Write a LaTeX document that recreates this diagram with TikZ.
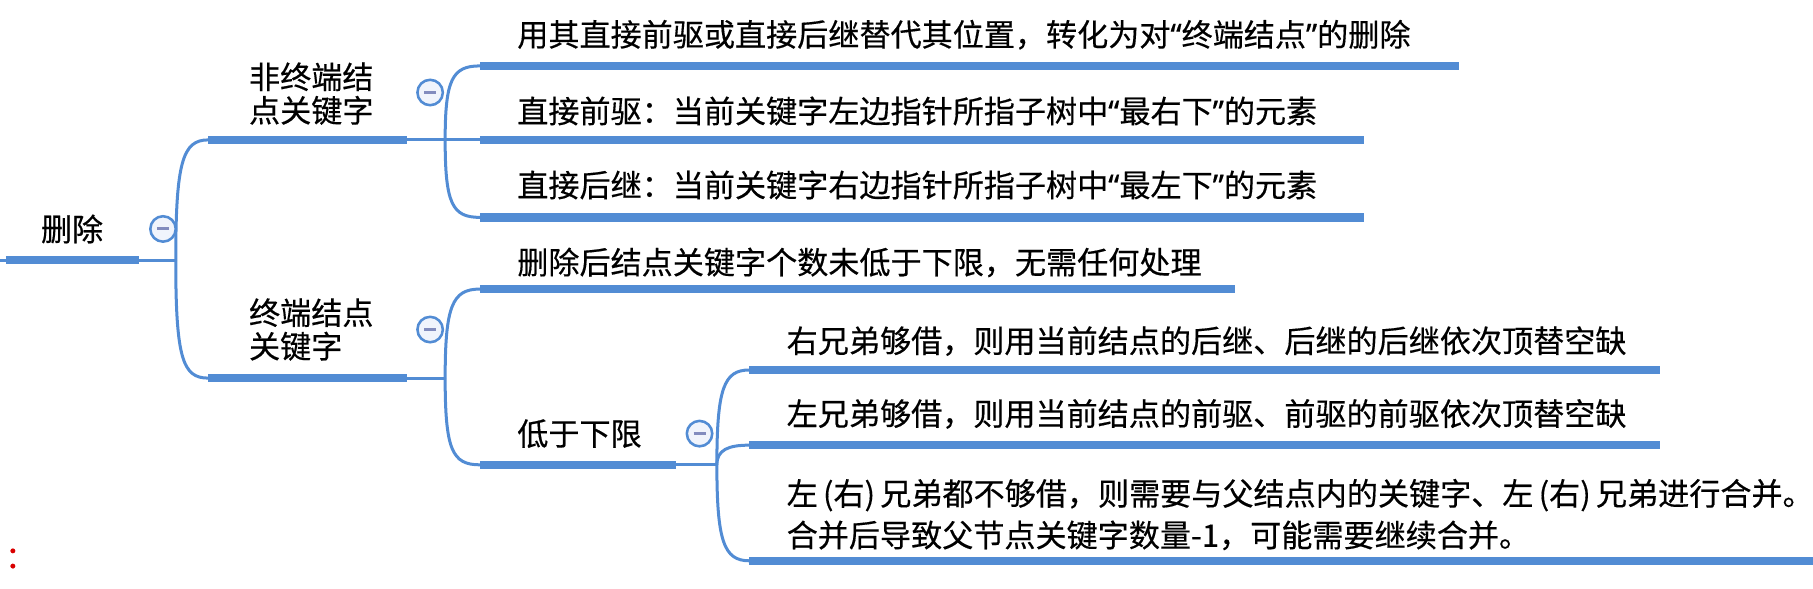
\documentclass[tikz,border=0pt]{standalone}
\usepackage{fontspec}
\setmainfont{Noto Sans CJK SC}[FakeBold=0.4]
\newfontfamily\qf{Noto Sans}[FakeBold=0.4]
\newcommand{\myLq}{{\qf “}}
\newcommand{\myRq}{{\qf ”}}
\definecolor{mmblue}{RGB}{82,140,212}
\definecolor{minusc}{RGB}{130,140,190}
\definecolor{togfill}{RGB}{240,244,252}
\begin{document}
\begin{tikzpicture}[x=0.5pt,y=-0.5pt,
  bar/.style={line width=3.6pt, draw=mmblue},
  link/.style={line width=1.3pt, draw=mmblue},
  txt/.style={anchor=west, inner sep=0pt, font=\fontsize{13.45}{15}\selectfont, align=left},
  tog/.style={circle, draw=mmblue, line width=1.1pt, fill=togfill, minimum size=11pt, inner sep=0pt,
    path picture={\draw[minusc, line width=1.3pt] ([xshift=-2.6pt]path picture bounding box.center) -- ([xshift=2.6pt]path picture bounding box.center);}}]
\useasboundingbox (0,0) rectangle (1568,509);

% coordinates
\coordinate (left) at (0,225);
\coordinate (r0) at (5,225);   \coordinate (r1) at (120,225);  \coordinate (j0) at (152,225);
\coordinate (a0) at (180,121); \coordinate (a1) at (352,121);  \coordinate (ja) at (385,121);
\coordinate (c0) at (180,327); \coordinate (c1) at (352,327);  \coordinate (jc) at (385,327);
\coordinate (b1s) at (415,57);  \coordinate (b1e) at (1262,57);
\coordinate (b2s) at (415,121); \coordinate (b2e) at (1180,121);
\coordinate (b3s) at (415,188); \coordinate (b3e) at (1180,188);
\coordinate (b4s) at (415,250); \coordinate (b4e) at (1068,250);
\coordinate (b5s) at (415,402); \coordinate (b5e) at (585,402); \coordinate (j5) at (620,402);
\coordinate (b6s) at (648,320); \coordinate (b6e) at (1436,320);
\coordinate (b7s) at (648,385); \coordinate (b7e) at (1436,385);
\coordinate (b8s) at (648,485); \coordinate (b8e) at (1568,485);

% connectors
\draw[link] (left) -- (r0);
\draw[link] (r1) -- (j0);
\draw[link] (j0) .. controls +(0,-85) and +(-22,0) .. (a0);
\draw[link] (j0) .. controls +(0,85) and +(-22,0) .. (c0);
\draw[link] (a1) -- (ja) -- (b2s);
\draw[link] (ja) .. controls +(0,-52) and +(-24,0) .. (b1s);
\draw[link] (ja) .. controls +(0,55) and +(-24,0) .. (b3s);
\draw[link] (c1) -- (jc);
\draw[link] (jc) .. controls +(0,-62) and +(-24,0) .. (b4s);
\draw[link] (jc) .. controls +(0,62) and +(-24,0) .. (b5s);
\draw[link] (b5e) -- (j5);
\draw[link] (j5) .. controls +(0,-66) and +(-22,0) .. (b6s);
\draw[link] (j5) .. controls +(0,-13) and +(-18,0) .. (b7s);
\draw[link] (j5) .. controls +(0,66) and +(-22,0) .. (b8s);

% bars
\draw[bar] (r0) -- (r1);
\draw[bar] (a0) -- (a1);
\draw[bar] (c0) -- (c1);
\draw[bar] (b1s) -- (b1e);
\draw[bar] (b2s) -- (b2e);
\draw[bar] (b3s) -- (b3e);
\draw[bar] (b4s) -- (b4e);
\draw[bar] (b5s) -- (b5e);
\draw[bar] (b6s) -- (b6e);
\draw[bar] (b7s) -- (b7e);
\draw[bar] (b8s) -- (b8e);

% toggles
\node[tog] (t0) at (141,198) {};
\node[tog] (ta) at (372,80) {};
\node[tog] (tc) at (372,285) {};
\node[tog] (t5) at (605,375) {};

% texts
\node[txt] (root) at (35,198) {删除};
\node[txt, font=\fontsize{13.45}{14.5}\selectfont] (na) at (215,81) {非终端结\\点关键字};
\node[txt, font=\fontsize{13.45}{14.5}\selectfont] (nc) at (215,285) {终端结点\\关键字};
\node[txt] (n1) at (447,30) {用其直接前驱或直接后继替代其位置，转化为对\myLq 终端结点\myRq 的删除};
\node[txt] (n2) at (447,96) {直接前驱：当前关键字左边指针所指子树中\myLq 最右下\myRq 的元素};
\node[txt] (n3) at (447,160) {直接后继：当前关键字右边指针所指子树中\myLq 最左下\myRq 的元素};
\node[txt] (n4) at (447,227) {删除后结点关键字个数未低于下限，无需任何处理};
\node[txt] (n5) at (447,375) {低于下限};
\node[txt] (n6) at (680,295) {右兄弟够借，则用当前结点的后继、后继的后继依次顶替空缺};
\node[txt] (n7) at (680,358) {左兄弟够借，则用当前结点的前驱、前驱的前驱依次顶替空缺};
\node[txt, font=\fontsize{13.45}{18}\selectfont] (n8) at (680,445) {左\,(右)\,兄弟都不够借，则需要与父结点内的关键字、左\,(右)\,兄弟进行合并。\\合并后导致父节点关键字数量-1，可能需要继续合并。};
\node[txt, text=red!85!black] (cut) at (4,483) {：};
\end{tikzpicture}
\end{document}
